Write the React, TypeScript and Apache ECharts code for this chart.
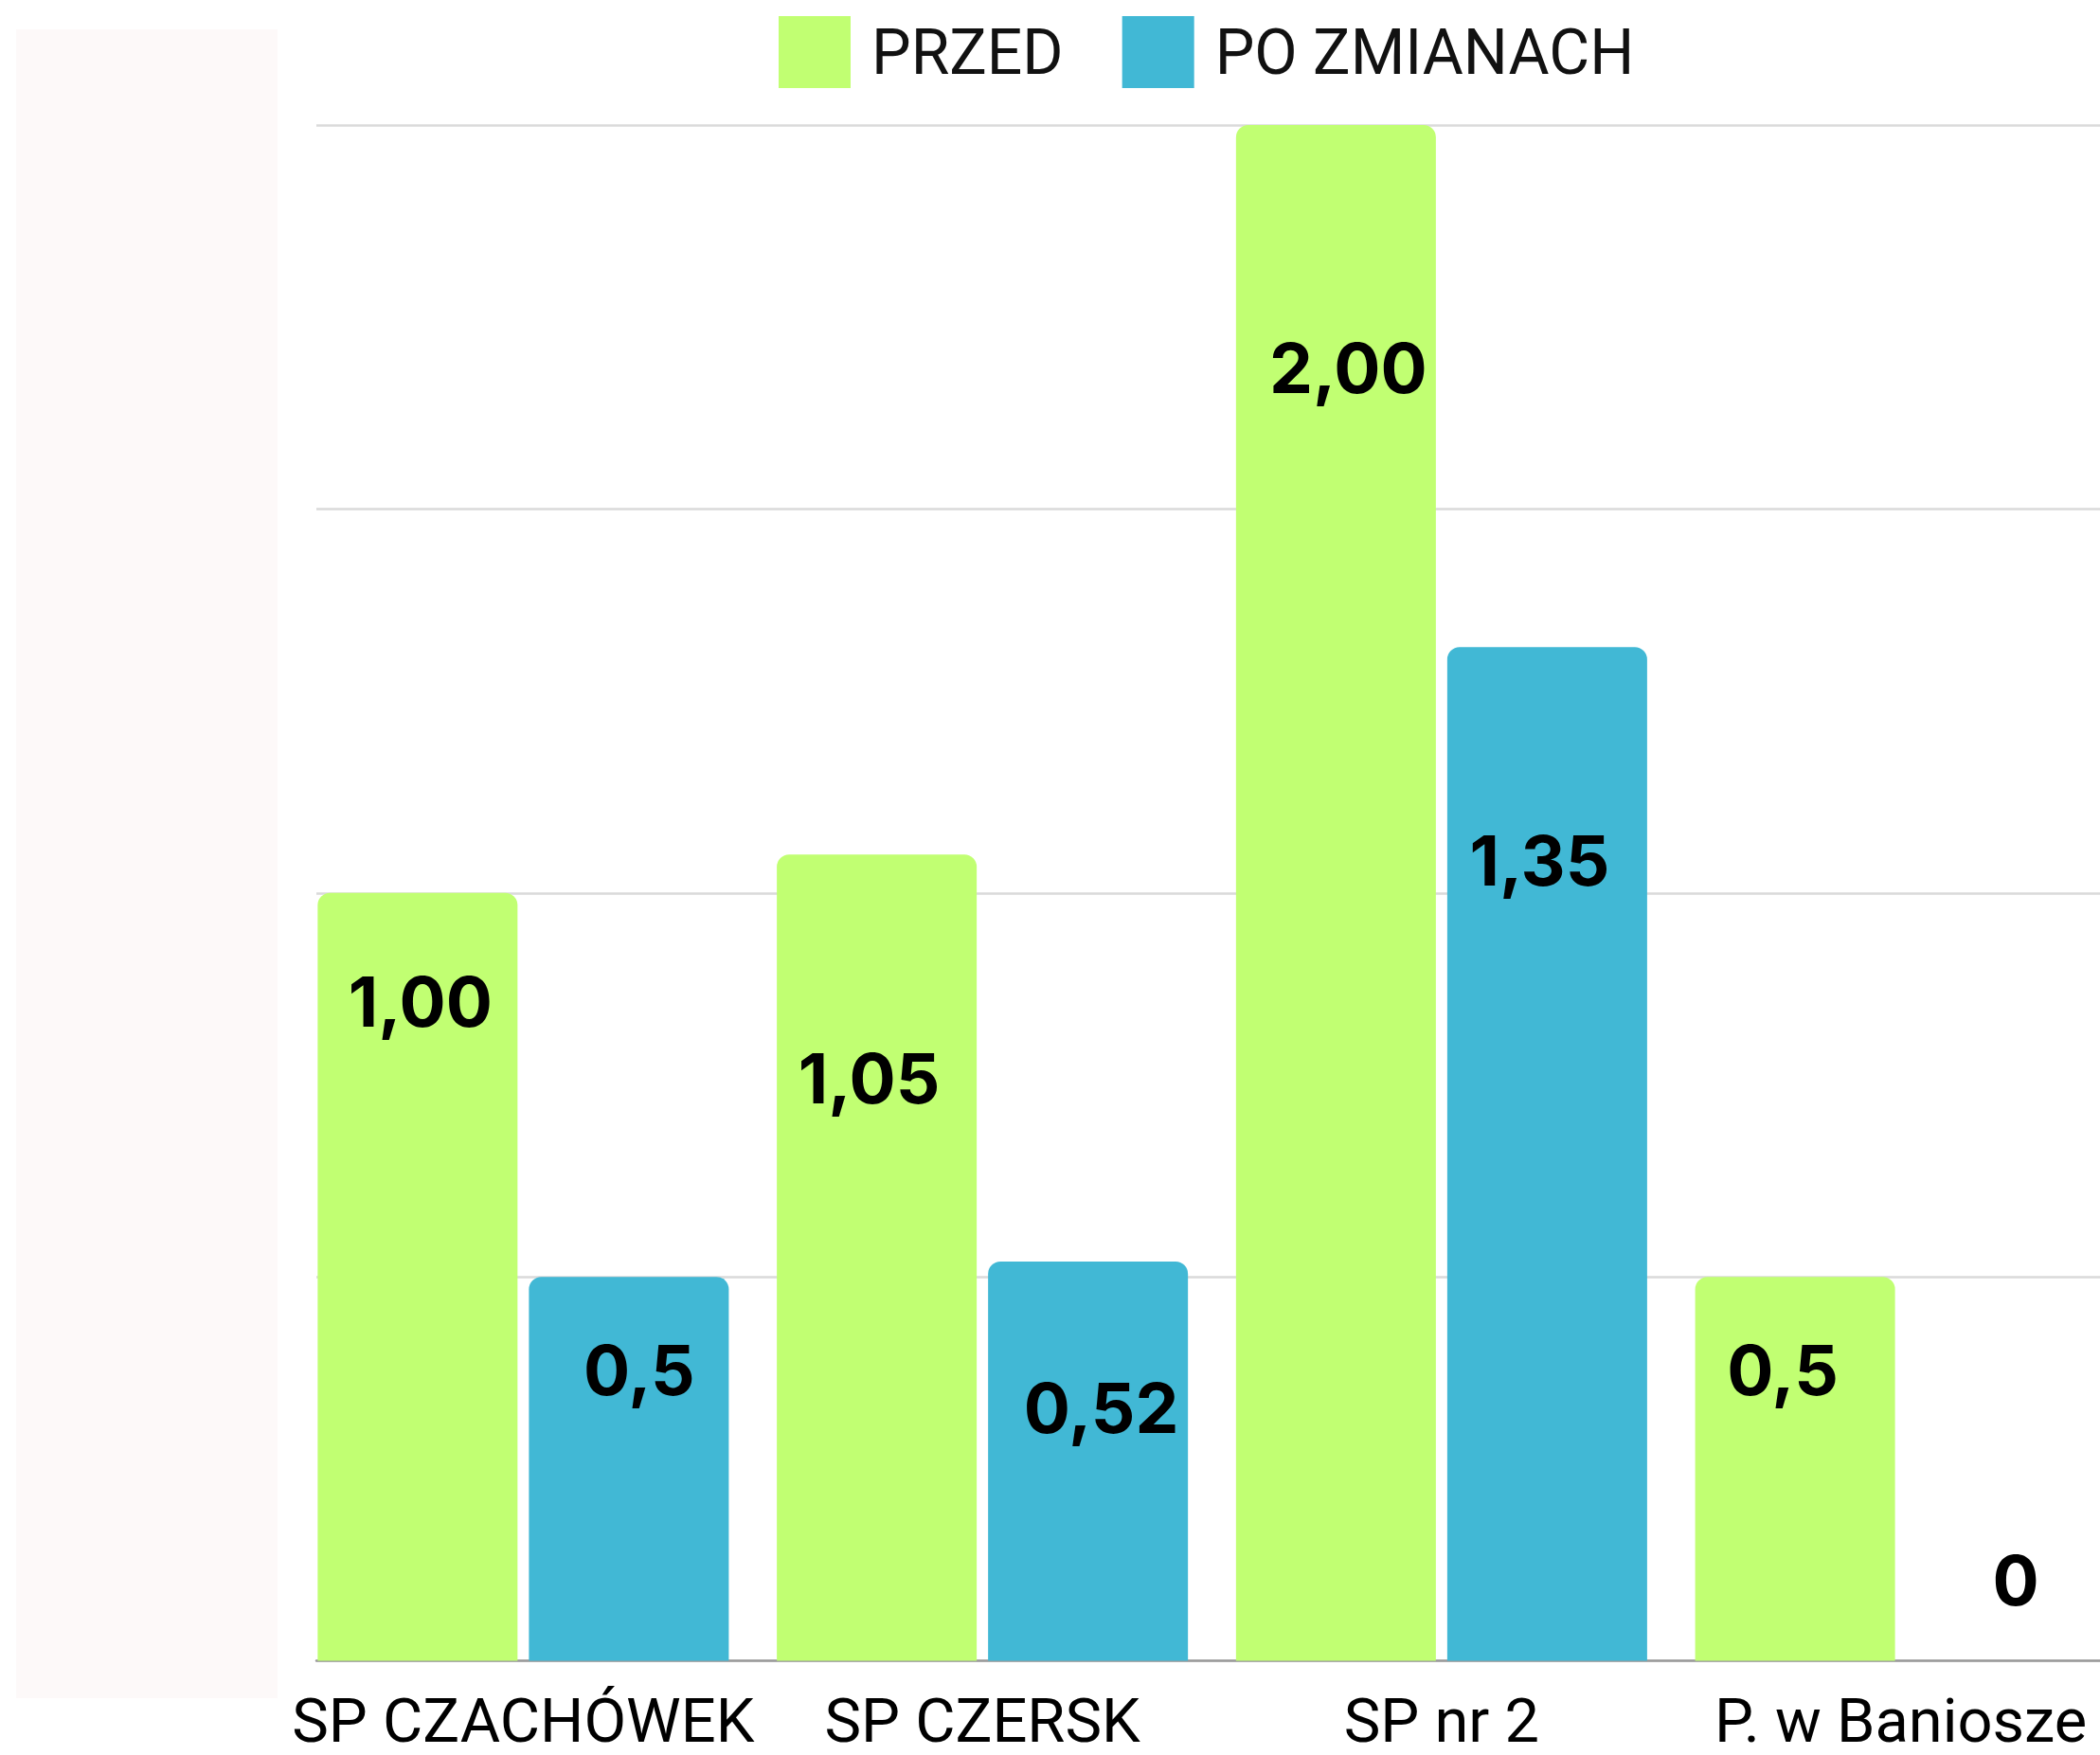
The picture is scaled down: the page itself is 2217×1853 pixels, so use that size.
import React, { useEffect, useRef } from "react";
import * as echarts from "echarts";

const categories = ["SP CZACHÓWEK", "SP CZERSK", "SP nr 2", "P. w Baniosze"];
const seriesNames = ["PRZED", "PO ZMIANACH"];
const przedValues = [1.0, 1.05, 2.0, 0.5];
const poZmianachValues = [0.5, 0.52, 1.32, 0];
const przedLabels = ["1,00", "1,05", "2,00", "0,5"];
const poZmianachLabels = ["0,5", "0,52", "1,35", "0"];
const przedLabelOffsets = [[3, 80], [-8, 201], [13, 221], [-13, 63]];
const poZmianachLabelOffsets = [[11, 63], [14, 120], [-8, 190], [10, -120]];
const yTicks = [0, 0.5, 1, 1.5, 2];

const GREEN = "#C1FF72";
const BLUE = "#41B8D5";

const VIEW_W = 2217;
const VIEW_H = 1853;
const CHART_W = 2249;

export default function App() {
  const ref = useRef<HTMLDivElement>(null);

  useEffect(() => {
    if (!ref.current) return;
    const chart = echarts.init(ref.current, undefined, { renderer: "svg" });

    const labelStyle = {
      show: true,
      position: "insideTop",
      distance: 0,
      fontFamily: "Inter",
      fontWeight: 700,
      fontSize: 73,
      lineHeight: 70,
      color: "#000000",
    };

    const makeData = (vals: number[], labels: string[], offsets: number[][]) =>
      vals.map((v, i) => ({
        value: v,
        label: { ...labelStyle, formatter: labels[i], offset: offsets[i] },
      }));

    const top = 132;
    const height = 1621.5;

    chart.setOption({
      animation: false,
      backgroundColor: "#ffffff",
      graphic: [
        {
          type: "rect",
          shape: { x: 17, y: 31, width: 276, height: 1762 },
          style: { fill: "#fdf9f9" },
          z: -1,
        },
      ],
      legend: {
        data: seriesNames,
        left: 822,
        top: 17,
        padding: 0,
        itemWidth: 76,
        itemHeight: 76,
        itemGap: 62,
        icon: "rect",
        textStyle: {
          fontFamily: "Roboto",
          fontSize: 66,
          color: "#111111",
          padding: [0, 0, 0, 17],
        },
      },
      grid: [
        { left: 334, right: CHART_W - VIEW_W, top, height },
        { left: 310, right: 0, top, height },
      ],
      xAxis: [
        {
          gridIndex: 0,
          type: "value",
          min: 0,
          max: 1,
          axisLine: { show: true, lineStyle: { color: "#9a9a9a", width: 2.5 } },
          axisTick: { show: false },
          axisLabel: { show: false },
          splitLine: { show: false },
        },
        {
          gridIndex: 1,
          type: "category",
          data: categories,
          axisLine: { show: false },
          axisTick: { show: false },
          splitLine: { show: false },
          axisLabel: {
            fontFamily: "Roboto",
            fontSize: 65,
            lineHeight: 56,
            color: "#000000",
            margin: 35,
            interval: 0,
          },
        },
      ],
      yAxis: [
        {
          gridIndex: 0,
          type: "value",
          min: yTicks[0],
          max: yTicks[yTicks.length - 1],
          interval: 0.5,
          axisLine: { show: false },
          axisTick: { show: false },
          axisLabel: { show: false },
          splitLine: { show: true, lineStyle: { color: "#dadada", width: 2.5 } },
        },
        {
          gridIndex: 1,
          type: "value",
          min: yTicks[0],
          max: yTicks[yTicks.length - 1],
          interval: 0.5,
          axisLine: { show: false },
          axisTick: { show: false },
          axisLabel: { show: false },
          splitLine: { show: false },
        },
      ],
      series: [
        {
          name: seriesNames[0],
          type: "bar",
          xAxisIndex: 1,
          yAxisIndex: 1,
          barWidth: 211,
          barGap: "5.7%",
          itemStyle: { color: GREEN, borderRadius: [13, 13, 0, 0] },
          data: makeData(przedValues, przedLabels, przedLabelOffsets),
          z: 3,
        },
        {
          name: seriesNames[1],
          type: "bar",
          xAxisIndex: 1,
          yAxisIndex: 1,
          barWidth: 211,
          barGap: "5.7%",
          itemStyle: { color: BLUE, borderRadius: [13, 13, 0, 0] },
          data: makeData(poZmianachValues, poZmianachLabels, poZmianachLabelOffsets),
          z: 3,
        },
      ],
    });

    return () => chart.dispose();
  }, []);

  return (
    <div
      style={{
        position: "fixed",
        left: 0,
        top: 0,
        width: VIEW_W,
        height: VIEW_H,
        overflow: "hidden",
        background: "#ffffff",
      }}
    >
      <div ref={ref} style={{ width: CHART_W, height: VIEW_H }} />
    </div>
  );
}
